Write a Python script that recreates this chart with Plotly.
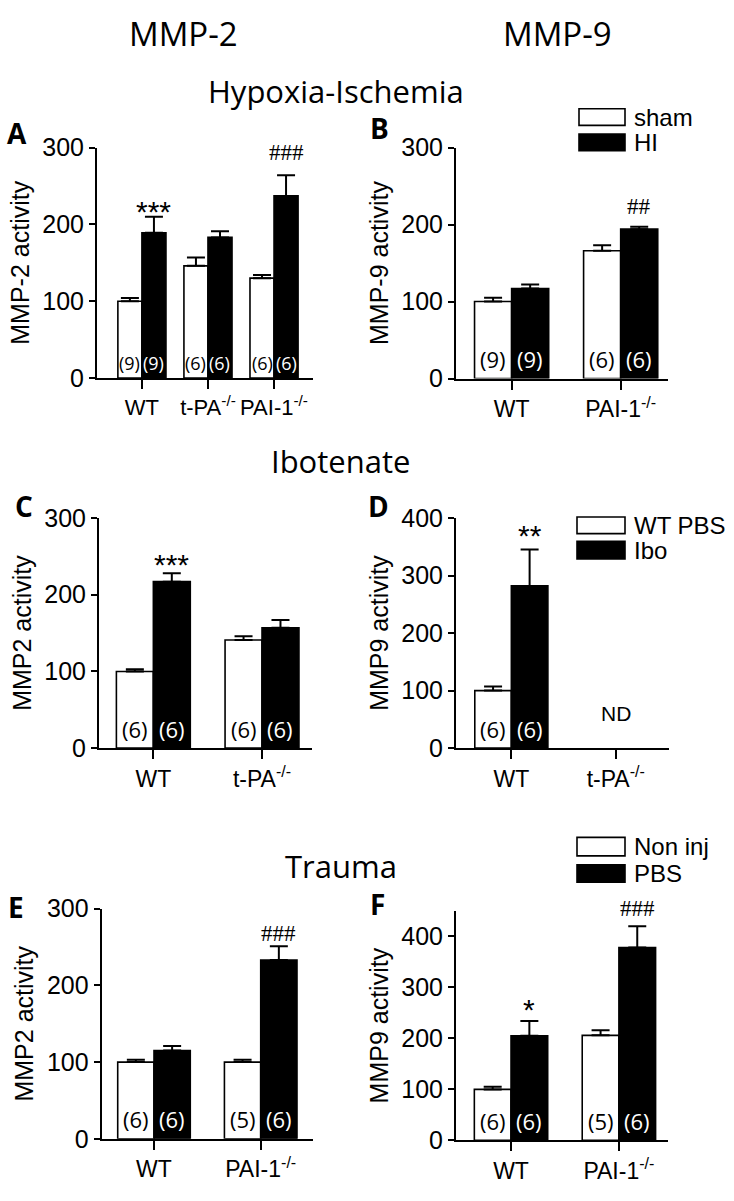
import plotly.graph_objects as go

# ---------------- data ----------------
# Panel A  (MMP-2, Hypoxia-Ischemia)
a_cats = ["WT", "t-PA<sup>-/-</sup>", "PAI-1<sup>-/-</sup>"]
a_sham = [100, 146, 130]
a_sham_sem = [4, 11, 4]
a_hi = [189, 183, 237]
a_hi_sem = [21, 8, 27]
a_n_sham = ["(9)", "(6)", "(6)"]
a_n_hi = ["(9)", "(6)", "(6)"]

# Panel B  (MMP-9, Hypoxia-Ischemia)
b_cats = ["WT", "PAI-1<sup>-/-</sup>"]
b_sham = [100, 166]
b_sham_sem = [5, 7]
b_hi = [117, 194]
b_hi_sem = [5, 3]
b_n_sham = ["(9)", "(6)"]
b_n_hi = ["(9)", "(6)"]

# Panel C  (MMP-2, Ibotenate)
c_cats = ["WT", "t-PA<sup>-/-</sup>"]
c_pbs = [100, 141]
c_pbs_sem = [3, 5]
c_ibo = [217, 157]
c_ibo_sem = [11, 10]
c_n_pbs = ["(6)", "(6)"]
c_n_ibo = ["(6)", "(6)"]

# Panel D  (MMP-9, Ibotenate)
d_cats = ["WT", "t-PA<sup>-/-</sup>"]
d_pbs = [100, None]
d_pbs_sem = [7, 0]
d_ibo = [282, None]
d_ibo_sem = [63, 0]
d_n_pbs = ["(6)", ""]
d_n_ibo = ["(6)", ""]

# Panel E  (MMP-2, Trauma)
e_cats = ["WT", "PAI-1<sup>-/-</sup>"]
e_noninj = [100, 100]
e_noninj_sem = [3, 3]
e_pbs = [115, 233]
e_pbs_sem = [6, 18]
e_n_noninj = ["(6)", "(5)"]
e_n_pbs = ["(6)", "(6)"]

# Panel F  (MMP-9, Trauma)
f_cats = ["WT", "PAI-1<sup>-/-</sup>"]
f_noninj = [100, 206]
f_noninj_sem = [5, 10]
f_pbs = [205, 378]
f_pbs_sem = [29, 42]
f_n_noninj = ["(6)", "(5)"]
f_n_pbs = ["(6)", "(6)"]

# significance marks: (category index, label, y position in data units)
a_sig = [(0, "***", 226), (2, "###", 293)]
b_sig = [(1, "##", 223)]
c_sig = [(0, "***", 249)]
d_sig = [(0, "**", 382)]
e_sig = [(1, "###", 267)]
f_sig = [(0, "*", 271), (1, "###", 455)]

legend_hi = ["sham", "HI"]
legend_ibo = ["WT PBS", "Ibo"]
legend_trauma = ["Non inj", "PBS"]

col_titles = ["MMP-2", "MMP-9"]
row_titles = ["Hypoxia-Ischemia", "Ibotenate", "Trauma"]

# ---------------- layout helpers ----------------
W, H = 734, 1201
SANS = "Liberation Sans, Arial, sans-serif"
CAL = "Open Sans, sans-serif"
SERIF = "Liberation Serif, Times New Roman, serif"


def px_x(p):
    return p / W


def px_y(p):
    return 1 - p / H


panels = [
    dict(cats=a_cats, w=a_sham, ws=a_sham_sem, b=a_hi, bs=a_hi_sem, nw=a_n_sham, nb=a_n_hi,
         sig=a_sig, ytitle="MMP-2 activity", yr=[0, 300], yt=[0, 100, 200, 300],
         xd=(97, 313), yd=(136.7, 372.7), xr=[-0.68, 2.59], bw=0.364, nf=18, nfrac=0.063,
         xf=22, letter="A", lp=(17, 122)),
    dict(cats=b_cats, w=b_sham, ws=b_sham_sem, b=b_hi, bs=b_hi_sem, nw=b_n_sham, nb=b_n_hi,
         sig=b_sig, ytitle="MMP-9 activity", yr=[0, 300], yt=[0, 100, 200, 300],
         xd=(456, 668), yd=(136.7, 373.3), xr=[-0.51, 1.434], bw=0.34, nf=22, nfrac=0.085,
         xf=23, letter="B", lp=(379, 117)),
    dict(cats=c_cats, w=c_pbs, ws=c_pbs_sem, b=c_ibo, bs=c_ibo_sem, nw=c_n_pbs, nb=c_n_ibo,
         sig=c_sig, ytitle="MMP2 activity", yr=[0, 300], yt=[0, 100, 200, 300],
         xd=(99, 312), yd=(516, 751.7), xr=[-0.50, 1.46], bw=0.34, nf=22, nfrac=0.085,
         xf=23, letter="C", lp=(24, 504)),
    dict(cats=d_cats, w=d_pbs, ws=d_pbs_sem, b=d_ibo, bs=d_ibo_sem, nw=d_n_pbs, nb=d_n_ibo,
         sig=d_sig, ytitle="MMP9 activity", yr=[0, 400], yt=[0, 100, 200, 300, 400],
         xd=(456, 669), yd=(516, 751.7), xr=[-0.53, 1.51], bw=0.35, nf=22, nfrac=0.085,
         xf=23, letter="D", lp=(378, 504)),
    dict(cats=e_cats, w=e_noninj, ws=e_noninj_sem, b=e_pbs, bs=e_pbs_sem, nw=e_n_noninj, nb=e_n_pbs,
         sig=e_sig, ytitle="MMP2 activity", yr=[0, 300], yt=[0, 100, 200, 300],
         xd=(101.7, 313), yd=(916, 1151.7), xr=[-0.49, 1.49], bw=0.34, nf=22, nfrac=0.085,
         xf=23, letter="E", lp=(16, 914)),
    dict(cats=f_cats, w=f_noninj, ws=f_noninj_sem, b=f_pbs, bs=f_pbs_sem, nw=f_n_noninj, nb=f_n_pbs,
         sig=f_sig, ytitle="MMP9 activity", yr=[0, 450], yt=[0, 100, 200, 300, 400],
         xd=(456, 668), yd=(918.3, 1153.3), xr=[-0.51, 1.455], bw=0.34, nf=22, nfrac=0.085,
         xf=23, letter="F", lp=(377, 911)),
]

fig = go.Figure()
annotations = []
shapes = []
layout = {}

for k, p in enumerate(panels, start=1):
    xa = "x" if k == 1 else f"x{k}"
    ya = "y" if k == 1 else f"y{k}"
    idx = list(range(len(p["cats"])))
    bw = p["bw"]
    for vals, sems, color, off in [(p["w"], p["ws"], "white", -bw), (p["b"], p["bs"], "black", 0.0)]:
        fig.add_trace(go.Bar(
            x=idx, y=vals, width=bw, offset=off,
            marker=dict(color=color, line=dict(color="black", width=1.6)),
            error_y=dict(type="data", symmetric=False, array=sems,
                         arrayminus=[0] * len(sems), color="black",
                         thickness=2, width=9),
            xaxis=xa, yaxis=ya, showlegend=False, hoverinfo="skip",
        ))
    layout[("xaxis" if k == 1 else f"xaxis{k}")] = dict(
        domain=[px_x(p["xd"][0]), px_x(p["xd"][1])], anchor=ya,
        range=p["xr"], tickvals=idx, ticktext=p["cats"], tickangle=0,
        showline=True, linecolor="black", linewidth=2,
        ticks="outside", ticklen=9, tickwidth=2, tickcolor="black",
        showgrid=False, zeroline=False, fixedrange=True,
        tickfont=dict(family=SANS, size=p["xf"], color="black"),
    )
    layout[("yaxis" if k == 1 else f"yaxis{k}")] = dict(
        domain=[px_y(p["yd"][1]), px_y(p["yd"][0])], anchor=xa,
        range=p["yr"], tickvals=p["yt"],
        showline=True, linecolor="black", linewidth=2,
        ticks="outside", ticklen=6, tickwidth=2, tickcolor="black",
        showgrid=False, zeroline=False, fixedrange=True,
        tickfont=dict(family=SANS, size=25, color="black"),
        title=dict(text=p["ytitle"], font=dict(family=SANS, size=25, color="black"), standoff=6),
    )
    px_per_unit = (p["yd"][1] - p["yd"][0]) / (p["yr"][1] - p["yr"][0])
    # n labels inside bars
    for i in idx:
        for txt, xoff, col in [(p["nw"][i], -bw / 2, "black"), (p["nb"][i], bw / 2, "white")]:
            if txt:
                annotations.append(dict(
                    x=i + xoff, y=p["nfrac"], xref=xa, yref=f"{ya} domain",
                    text=txt, showarrow=False, xanchor="center", yanchor="middle",
                    font=dict(family=CAL, size=p["nf"], color=col)))
    # significance marks
    for (i, txt, yv) in p["sig"]:
        is_star = txt.startswith("*")
        shift = -7 if is_star else 0
        top = p["yr"][1] - 2
        if yv > top:
            shift += (yv - top) * px_per_unit
            yv = top
        annotations.append(dict(
            x=i + bw / 2, y=yv, xref=xa, yref=ya, text=txt, showarrow=False,
            xanchor="center", yanchor="middle", yshift=shift,
            font=dict(family=SANS if is_star else SERIF, size=30 if is_star else 23, color="black")))
    # panel letter
    annotations.append(dict(
        x=px_x(p["lp"][0]), y=px_y(p["lp"][1]), xref="paper", yref="paper",
        text=f"<b>{p['letter']}</b>", showarrow=False, xanchor="center", yanchor="middle",
        font=dict(family=CAL, size=28, color="black")))

# ND label in panel D
annotations.append(dict(x=1, y=60, xref="x4", yref="y4", text="ND", showarrow=False,
                        xanchor="center", yanchor="middle",
                        font=dict(family=SANS, size=21, color="black")))

# legends (drawn as swatches)
for labels, (bx0, bx1, y1a, y1b, y2a, y2b) in [
    (legend_hi, (579, 625, 97, 114, 123, 140)),
    (legend_ibo, (577, 625, 515, 532, 540, 558)),
    (legend_trauma, (577, 625, 843, 862, 871, 889)),
]:
    for lab, (ya0, ya1), fill in [(labels[0], (y1a, y1b), "white"), (labels[1], (y2a, y2b), "black")]:
        shapes.append(dict(type="rect", xref="paper", yref="paper",
                           x0=px_x(bx0), x1=px_x(bx1), y0=px_y(ya1), y1=px_y(ya0),
                           fillcolor=fill, line=dict(color="black", width=1.6)))
        annotations.append(dict(x=px_x(bx1 + 7), y=px_y((ya0 + ya1) / 2), xref="paper", yref="paper",
                                text=lab, showarrow=False, xanchor="left", yanchor="middle",
                                font=dict(family=SANS, size=24, color="black")))

# column and section titles
for txt, cx in zip(col_titles, [183, 557]):
    annotations.append(dict(x=px_x(cx), y=px_y(20), xref="paper", yref="paper", text=txt,
                            showarrow=False, xanchor="center", yanchor="middle",
                            font=dict(family=CAL, size=33, color="black")))
for txt, (cx, cy) in zip(row_titles, [(336, 79), (340, 458), (341, 872)]):
    annotations.append(dict(x=px_x(cx), y=px_y(cy), xref="paper", yref="paper", text=txt,
                            showarrow=False, xanchor="center", yanchor="middle",
                            font=dict(family=CAL, size=31, color="black")))

fig.update_layout(
    width=W, height=H, autosize=False,
    margin=dict(l=0, r=0, t=0, b=0),
    paper_bgcolor="white", plot_bgcolor="white",
    barmode="overlay", showlegend=False,
    annotations=annotations, shapes=shapes,
    **layout,
)

fig.write_html(
    "out.html",
    config={"displayModeBar": False, "staticPlot": True},
    post_script="document.body.style.margin='0';document.body.style.padding='0';"
                "document.documentElement.style.overflow='hidden';",
)
